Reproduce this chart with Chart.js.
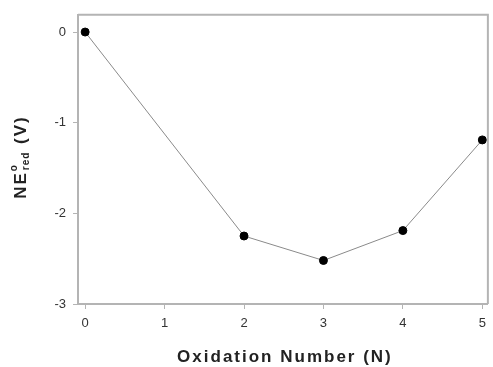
<!DOCTYPE html>
<html>
<head>
<meta charset="utf-8">
<script src="https://cdn.jsdelivr.net/npm/chart.js@4"></script>
<style>
  html, body { margin: 0; padding: 0; background: #fff; }
  #wrap { width: 493px; height: 367px; }
</style>
</head>
<body>
<div id="wrap"><canvas id="grafico"></canvas></div>
<script>
// oxidation number vs N*E°red
const oxidationNumbers = [0, 2, 3, 4, 5];
const neRed = [0, -2.25, -2.52, -2.19, -1.19];
const xTicks = [0, 1, 2, 3, 4, 5];
const yTicks = [-3, -2, -1, 0];

const axisGray = '#b4b4b4';
const fam = '"Liberation Sans", Arial, sans-serif';

const titles = {
  id: 'titles',
  afterDraw(chart) {
    const ctx = chart.ctx;
    const a = chart.chartArea;
    ctx.save();
    ctx.fillStyle = '#222';
    // frame top + right
    ctx.strokeStyle = axisGray;
    ctx.lineWidth = 2;
    ctx.beginPath();
    ctx.moveTo(a.left, a.top);
    ctx.lineTo(a.right, a.top);
    ctx.lineTo(a.right, a.bottom);
    ctx.stroke();

    // x title
    ctx.font = 'bold 17px ' + fam;
    ctx.letterSpacing = '2px';
    ctx.textAlign = 'center';
    ctx.textBaseline = 'middle';
    ctx.fillText('Oxidation Number (N)', (a.left + a.right) / 2 + 2, 357);

    // y title with super/subscript
    ctx.translate(21, 157);
    ctx.rotate(-Math.PI / 2);
    const big = 'bold 17px ' + fam;
    const small = 'bold 10px ' + fam;
    ctx.font = big;
    const wNE = ctx.measureText('NE').width;
    const wV = ctx.measureText(' (V)').width;
    ctx.font = small;
    ctx.letterSpacing = '1px';
    const wRed = ctx.measureText('red').width;
    const total = wNE + wRed + 2 + wV;
    let x = -total / 2;
    ctx.textAlign = 'left';
    ctx.letterSpacing = '2px';
    ctx.font = big; ctx.fillText('NE', x, 0); x += wNE;
    ctx.letterSpacing = '1px';
    ctx.font = small; ctx.fillText('o', x, -7);
    ctx.fillText('red', x + 1, 5); x += wRed + 2;
    ctx.letterSpacing = '2px';
    ctx.font = big; ctx.fillText(' (V)', x, 0);
    ctx.restore();
  }
};

new Chart(document.getElementById('grafico').getContext('2d'), {
  type: 'scatter',
  data: {
    datasets: [{
      data: oxidationNumbers.map((n, i) => ({ x: n, y: neRed[i] })),
      showLine: true,
      borderColor: '#8a8a8a',
      borderWidth: 1,
      pointBackgroundColor: '#000',
      pointBorderColor: '#000',
      pointRadius: 4,
      pointHoverRadius: 4
    }]
  },
  options: {
    responsive: true,
    maintainAspectRatio: false,
    animation: false,
    layout: { padding: { top: 14, right: 3, left: 0, bottom: 0 } },
    plugins: {
      legend: { display: false },
      tooltip: { enabled: false }
    },
    scales: {
      x: {
        type: 'linear',
        min: -0.09,
        max: 5.07,
        afterBuildTicks: s => { s.ticks = xTicks.map(v => ({ value: v })); },
        afterFit: s => { s.height = 63; },
        ticks: {
          color: '#333',
          padding: 7,
          font: { family: fam, size: 13 }
        },
        grid: { drawOnChartArea: false, drawTicks: true, tickLength: 5, color: axisGray },
        border: { display: true, color: axisGray, width: 2 }
      },
      y: {
        type: 'linear',
        min: -3,
        max: 0.19,
        afterBuildTicks: s => { s.ticks = yTicks.map(v => ({ value: v })); },
        afterFit: s => { s.width = 78; },
        ticks: {
          color: '#333',
          padding: 7,
          font: { family: fam, size: 13 }
        },
        grid: { drawOnChartArea: false, drawTicks: true, tickLength: 5, color: axisGray },
        border: { display: true, color: axisGray, width: 2 }
      }
    }
  },
  plugins: [titles]
});
</script>
</body>
</html>
